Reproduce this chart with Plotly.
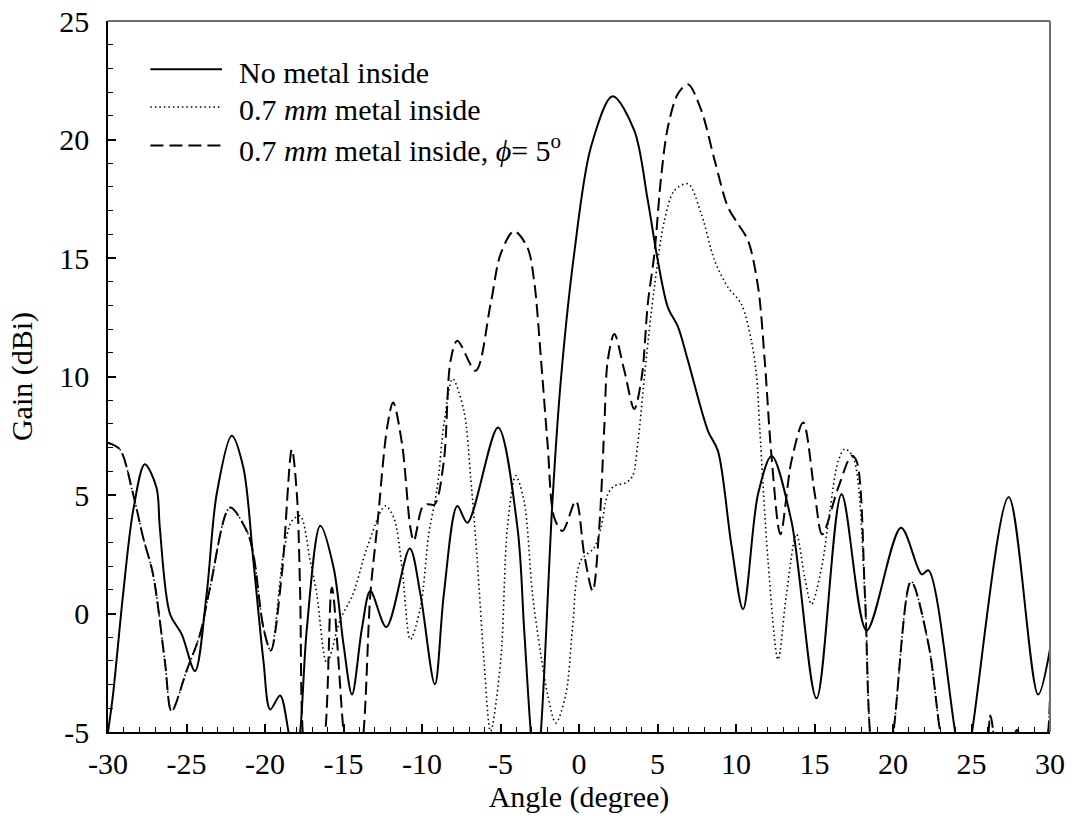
import plotly.graph_objects as go

# ---------------- data ----------------
angle_no_metal = [-30, -29.68, -29.04, -28.4, -27.66, -26.91, -26.7, -26.06, -25.3, -24.46,
                  -23.72, -23.08, -22.12, -21.38, -20.74, -20.1, -19.67, -19.04, -18.5, -18.1,
                  -17.76, -17.33, -16.48, -15.63, -15.0, -14.46, -13.82, -13.29, -12.27, -10.78,
                  -10.1, -9.18, -8.61, -7.75, -7.11, -5.16, -3.92, -3.5, -3.07, -2.75,
                  -2.43, -1.69, -1.16, -0.31, 0.76, 2.14, 3.52, 4.38, 5.02, 5.66,
                  6.3, 6.94, 8.21, 8.85, 9.7, 10.45, 11.4, 12.27, 13.53, 15.13,
                  16.72, 18.32, 20.51, 21.83, 22.26, 23.96, 24.5, 25.03, 27.37, 29.24, 30]
gain_no_metal = [-5.0, -3.42, 0.81, 4.33, 6.3, 5.31, 3.62, 0.0, -0.88, -2.43,
                 0.81, 5.03, 7.5, 6.16, 2.22, -2.0, -4.05, -3.46, -5.0, -6.5,
                 -5.0, -0.6, 3.7, 1.93, -1.3, -3.42, -0.6, 0.95, -0.57, 2.74,
                 0.81, -2.99, 0.81, 4.54, 3.83, 7.85, 3.62, -0.6, -5.0, -7.0,
                 -5.0, 4.75, 9.82, 15.17, 19.68, 21.82, 20.38, 17.43, 14.89, 12.92,
                 12.1, 10.67, 7.71, 6.86, 2.92, 0.18, 5.03, 6.65, 3.9, -3.58,
                 5.03, -0.71, 3.62, 1.65, 1.82, -5.0, -7.0, -5.0, 4.92, -3.42, -1.5]

angle_metal = [-30, -29.25, -28.4, -27.76, -27.13, -26.38, -25.95, -25.0, -24.14, -23.5,
               -22.23, -21.16, -20.74, -20.1, -19.63, -18.83, -18.29, -17.76, -17.12, -16.7,
               -16.06, -15.2, -14.4, -13.5, -12.34, -11.8, -11.27, -10.74, -10.1, -9.57,
               -9.03, -8.6, -8.05, -7.33, -6.9, -6.48, -6.05, -5.63, -4.99, -4.56,
               -4.03, -3.5, -2.96, -2.43, -2.0, -1.48, -0.84, -0.41, 0.1, 0.97,
               1.4, 1.83, 2.25, 3.0, 3.42, 3.74, 4.27, 4.8, 5.44, 6.08,
               6.94, 7.79, 8.64, 9.49, 10.34, 10.98, 11.3, 11.51, 12.04, 12.68,
               13.21, 13.85, 14.38, 14.81, 15.45, 15.98, 16.51, 16.93, 17.47, 18.21,
               18.53, 19.2, 20.03, 21.15, 22.26, 23.0, 23.8, 24.8, 25.9, 26.2,
               26.5, 27.0, 27.6, 27.9, 28.2, 29.0, 29.88, 30]
gain_metal = [7.2, 6.93, 5.03, 3.2, 1.65, -2.0, -4.12, -2.43, -0.88, 1.09,
              4.47, 3.48, 2.5, -0.6, -1.56, 2.5, 3.9, 4.12, 2.22, 0.81,
              -2.08, -0.24, 0.8, 2.78, 4.54, 4.05, 1.93, -1.09, 0.24, 3.34,
              5.31, 8.0, 9.9, 8.55, 5.74, 2.22, -2.0, -4.97, -2.0, 3.62,
              5.81, 4.75, 0.81, -1.73, -3.42, -4.62, -3.42, -0.6, 2.22, 2.78,
              3.62, 5.03, 5.38, 5.52, 5.81, 7.15, 10.67, 13.76, 16.58, 17.85,
              18.13, 16.86, 14.89, 13.76, 13.06, 11.51, 10.1, 7.85, 2.22, -1.94,
              0.81, 3.34, 1.51, 0.39, 1.93, 4.33, 6.43, 6.94, 6.58, 0.81,
              -5.0, -9.0, -5.0, 1.35, -1.3, -5.0, -8.0, -6.0, -5.5, -4.3,
              -5.5, -7.0, -5.5, -4.9, -5.5, -8.0, -5.0, -3.0]

angle_metal_phi5 = [-30, -29.25, -28.4, -27.76, -27.13, -26.38, -25.95, -25.0, -24.14, -23.5,
                    -22.23, -21.16, -20.74, -20.1, -19.63, -18.93, -18.29, -17.97, -17.76, -17.6,
                    -17.0, -16.16, -15.74, -15.0, -14.4, -13.72, -13.29, -12.86, -12.22, -11.84,
                    -11.27, -10.74, -10.52, -9.99, -9.67, -9.2, -8.61, -8.18, -7.75, -6.58,
                    -5.63, -4.99, -4.14, -3.29, -2.86, -2.43, -2.0, -1.58, -1.05, -0.2,
                    0.33, 0.87, 1.29, 1.61, 1.83, 2.25, 2.89, 3.52, 4.0, 4.38,
                    4.8, 5.23, 5.66, 6.3, 6.94, 7.79, 8.64, 9.49, 10.13, 10.77,
                    11.41, 11.83, 12.26, 12.83, 13.53, 14.28, 15.02, 15.49, 16.51, 17.36,
                    17.68, 18.21, 18.53, 19.2, 20.03, 21.15, 22.26, 23.0, 23.8, 24.8,
                    25.9, 26.2, 26.5, 27.0, 27.6, 27.9, 28.2, 29.0, 29.88, 30]
gain_metal_phi5 = [7.2, 6.93, 5.03, 3.2, 1.65, -2.0, -4.12, -2.43, -0.88, 1.09,
                   4.47, 3.48, 2.5, -0.6, -1.56, 1.65, 6.93, 5.03, 0.81, -5.0,
                   -9.0, -5.0, 1.1, -5.0, -9.0, -5.0, 0.81, 3.62, 7.85, 8.9,
                   7.15, 3.62, 3.06, 4.47, 4.61, 4.6, 6.43, 10.67, 11.51, 10.24,
                   13.06, 15.17, 16.13, 15.45, 14.05, 10.8, 7.15, 4.05, 3.48, 4.75,
                   2.5, 0.95, 3.62, 7.85, 10.67, 11.79, 10.24, 8.63, 10.0, 13.06,
                   15.17, 18.41, 20.52, 21.93, 22.33, 21.23, 19.12, 17.14, 16.44, 15.73,
                   13.76, 10.67, 6.65, 3.34, 6.43, 8.06, 5.03, 3.34, 5.31, 6.65,
                   6.43, 0.81, -5.0, -9.0, -5.0, 1.35, -1.3, -5.0, -8.0, -6.0,
                   -5.5, -4.3, -5.5, -7.0, -5.5, -4.9, -5.5, -8.0, -5.0, -3.0]

series_names = ["No metal inside",
                "0.7 <i>mm</i> metal inside",
                "0.7 <i>mm</i> metal inside, <i>ϕ</i>= 5<sup>o</sup>"]

x_tickvals = [-30, -25, -20, -15, -10, -5, 0, 5, 10, 15, 20, 25, 30]
x_ticktext = ["-30", "-25", "-20", "-15", "-10", "-5", "0", "5", "10", "15", "20", "25", "30"]
y_tickvals = [-5, 0, 5, 10, 15, 20, 25]
y_ticktext = ["-5", "0", "5", "10", "15", "20", "25"]

# ---------------- styling ----------------
FONT = "Liberation Serif"
FS = 30
styles = [dict(color="black", width=2.0, dash="solid"),
          dict(color="black", width=1.6, dash="1.5px,3px"),
          dict(color="black", width=2.0, dash="13px,6px")]

fig = go.Figure()
for xs, ys, name, st in zip([angle_no_metal, angle_metal, angle_metal_phi5],
                            [gain_no_metal, gain_metal, gain_metal_phi5],
                            series_names, styles):
    fig.add_trace(go.Scatter(x=xs, y=ys, mode="lines", name=name,
                             line=dict(shape="spline", smoothing=0.9, **st),
                             showlegend=False))

# manual legend (long line samples like the original)
leg_rows_y = [0.932, 0.879, 0.825]
for yy, name, st in zip(leg_rows_y, series_names, styles):
    fig.add_shape(type="line", xref="paper", yref="paper",
                  x0=0.045, x1=0.121, y0=yy, y1=yy,
                  line=dict(color="black", width=st["width"], dash=st["dash"]))
    fig.add_annotation(xref="paper", yref="paper", x=0.137, y=yy - 0.004,
                       xanchor="left", yanchor="middle", showarrow=False,
                       text=name, font=dict(family=FONT, size=FS, color="black"))

# grey top/right frame
fig.add_shape(type="line", xref="paper", yref="paper", x0=0, x1=1, y0=1, y1=1,
              line=dict(color="#6e6e6e", width=2))
fig.add_shape(type="line", xref="paper", yref="paper", x0=1, x1=1, y0=0, y1=1,
              line=dict(color="#6e6e6e", width=2))

axis_common = dict(showgrid=False, zeroline=False, showline=True, linecolor="black",
                   linewidth=1.5, ticks="inside", ticklen=8, tickwidth=1.5,
                   tickcolor="black", mirror=False,
                   tickfont=dict(family=FONT, size=FS, color="black"))

fig.update_xaxes(range=[-30, 30], tickmode="array", tickvals=x_tickvals, ticktext=x_ticktext,
                 minor=dict(ticks="inside", ticklen=5, tickwidth=1.2, tickcolor="black", dtick=1),
                 ticklabelstandoff=4,
                 title=dict(text="Angle (degree)", font=dict(family=FONT, size=FS, color="black"),
                            standoff=2),
                 **axis_common)
fig.update_yaxes(range=[-5, 25], tickmode="array", tickvals=y_tickvals, ticktext=y_ticktext,
                 minor=dict(ticks="inside", ticklen=5, tickwidth=1.2, tickcolor="black", dtick=1),
                 ticklabelstandoff=11,
                 title=dict(text="Gain (dBi)", font=dict(family=FONT, size=FS, color="black"),
                            standoff=18),
                 **axis_common)

fig.update_layout(width=1072, height=820,
                  margin=dict(l=108, r=22, t=21, b=88, autoexpand=False),
                  paper_bgcolor="white", plot_bgcolor="white",
                  font=dict(family=FONT, size=FS, color="black"))

fig.write_html("out.html")
